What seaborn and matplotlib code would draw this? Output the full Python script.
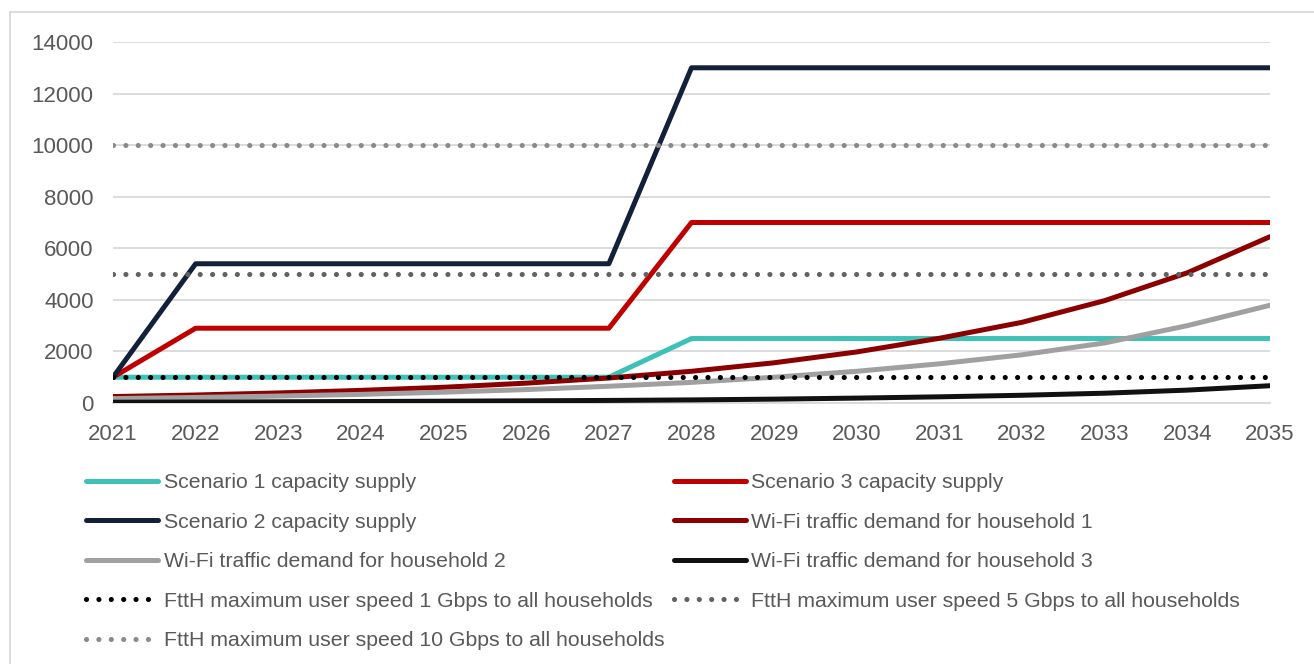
import matplotlib
matplotlib.use("Agg")
import matplotlib.pyplot as plt
import seaborn as sns
import numpy as np
import pandas as pd
from matplotlib.lines import Line2D

# ---------------- data ----------------
years = list(range(2021, 2036))
scenario1 = [1000, 1000, 1000, 1000, 1000, 1000, 1000, 2500, 2500, 2500, 2500, 2500, 2500, 2500, 2500]
scenario2 = [1000, 5400, 5400, 5400, 5400, 5400, 5400, 13000, 13000, 13000, 13000, 13000, 13000, 13000, 13000]
scenario3 = [1000, 2900, 2900, 2900, 2900, 2900, 2900, 7000, 7000, 7000, 7000, 7000, 7000, 7000, 7000]
household1 = [250, 310, 390, 490, 610, 770, 970, 1230, 1560, 1980, 2510, 3130, 3970, 5050, 6450]
household2 = [170, 215, 270, 335, 420, 520, 650, 800, 1000, 1230, 1520, 1870, 2330, 3000, 3790]
household3 = [30, 38, 47, 58, 70, 84, 100, 120, 150, 190, 240, 300, 380, 500, 670]
ftth_levels = [1000, 5000, 10000]

solid_labels = ["Scenario 1 capacity supply", "Scenario 3 capacity supply", "Scenario 2 capacity supply",
                "Wi-Fi traffic demand for household 1", "Wi-Fi traffic demand for household 2",
                "Wi-Fi traffic demand for household 3"]
ftth_labels = ["FttH maximum user speed 1 Gbps to all households",
               "FttH maximum user speed 5 Gbps to all households",
               "FttH maximum user speed 10 Gbps to all households"]
y_ticks = [0, 2000, 4000, 6000, 8000, 10000, 12000, 14000]

solid_colors = ["#3EC1B6", "#C00000", "#13203A", "#8B0000", "#A0A0A0", "#111111"]
ftth_colors = ["#000000", "#626262", "#8A8A8A"]

# ---------------- figure ----------------
sns.set_theme(style="white")
plt.rcParams["font.family"] = ["Liberation Sans", "DejaVu Sans"]

W, H = 1314, 664
fig = plt.figure(figsize=(W / 100, H / 100), dpi=100)
ax = fig.add_axes([113 / W, 1 - 403 / H, (1270 - 113) / W, (403 - 42) / H])

series = [scenario1, scenario3, scenario2, household1, household2, household3]
for vals, lab, col in zip(series, solid_labels, solid_colors):
    sns.lineplot(x=years, y=vals, ax=ax, color=col, linewidth=3.6, label=lab,
                 solid_capstyle="round", solid_joinstyle="round", zorder=3)

for lvl, lab, col in zip(ftth_levels, ftth_labels, ftth_colors):
    ax.axhline(lvl, color=col, linewidth=3.7, linestyle=(0, (0.01, 2.4)),
               dash_capstyle="round", label=lab, zorder=4)

if ax.get_legend() is not None:
    ax.get_legend().remove()

ax.set_xlim(2021, 2035)
ax.set_ylim(0, 14000)
ax.set_xticks(years)
ax.set_yticks(y_ticks)
ax.set_xticklabels([str(y) for y in years])
ax.set_yticklabels([str(v) for v in y_ticks])
ax.grid(axis="y", color="#D9D9D9", linewidth=1.3, zorder=0)
ax.grid(axis="x", visible=False)
for s in ["top", "right", "left"]:
    ax.spines[s].set_visible(False)
ax.spines["bottom"].set_color("#D9D9D9")
ax.spines["bottom"].set_linewidth(1.3)
ax.tick_params(axis="both", length=0, labelsize=16, labelcolor="#595959")
ax.tick_params(axis="y", pad=14)
ax.tick_params(axis="x", pad=15)
ax.set_xlabel("")
ax.set_ylabel("")

handles, labels = ax.get_legend_handles_labels()
lookup = dict(zip(labels, handles))
order = [solid_labels[0], solid_labels[2], solid_labels[4], ftth_labels[0], ftth_labels[2],
         solid_labels[1], solid_labels[3], solid_labels[5], ftth_labels[1]]
leg = fig.legend([lookup[l] for l in order], order, loc="upper left",
                 bbox_to_anchor=(86 / W, 1 - 473 / H), ncol=2, frameon=False,
                 fontsize=15.3, labelcolor="#595959", handlelength=3.4, handletextpad=0.25,
                 columnspacing=0.44, labelspacing=0.97, borderpad=0, borderaxespad=0)

# outer chart frame
fig.add_artist(Line2D([10 / W, 10 / W], [1 - 12 / H, 0], transform=fig.transFigure,
                      color="#D9D9D9", linewidth=1.3))
fig.add_artist(Line2D([10 / W, 1], [1 - 12 / H, 1 - 12 / H], transform=fig.transFigure,
                      color="#D9D9D9", linewidth=1.3))

fig.savefig("out.png", dpi=100)
